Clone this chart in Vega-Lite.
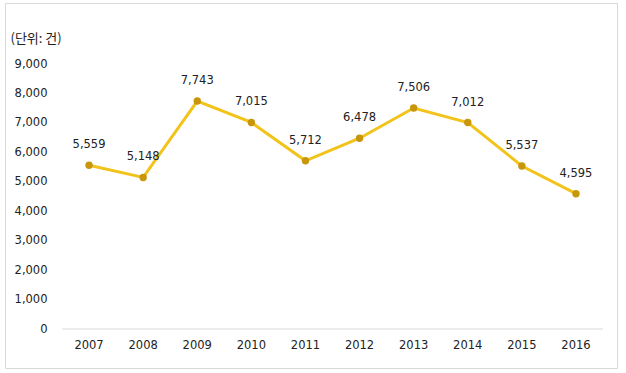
{
  "$schema": "https://vega.github.io/schema/vega-lite/v6.json",
  "width": 612,
  "height": 365,
  "autosize": {"type": "none"},
  "padding": {"left": 5, "top": 3, "right": 9, "bottom": 5},
  "background": "#ffffff",
  "config": {
    "view": {"stroke": "#d9d9d9", "strokeWidth": 1},
    "font": "DejaVu Sans",
    "axis": {"labelFont": "DejaVu Sans", "labelFontSize": 11.5, "labelColor": "#222222", "grid": false, "ticks": false}
  },
  "data": {
    "values": [
      {"year": "2007", "cases": 5559},
      {"year": "2008", "cases": 5148},
      {"year": "2009", "cases": 7743},
      {"year": "2010", "cases": 7015},
      {"year": "2011", "cases": 5712},
      {"year": "2012", "cases": 6478},
      {"year": "2013", "cases": 7506},
      {"year": "2014", "cases": 7012},
      {"year": "2015", "cases": 5537},
      {"year": "2016", "cases": 4595}
    ]
  },
  "encoding": {
    "x": {
      "field": "year",
      "type": "ordinal",
      "sort": null,
      "scale": {"type": "band", "domain": ["2007", "2008", "2009", "2010", "2011", "2012", "2013", "2014", "2015", "2016"], "paddingInner": 0, "paddingOuter": 0.656, "align": 0.803},
      "axis": {"orient": "bottom", "offset": -39, "domain": false, "labelPadding": 10, "labelAngle": 0, "title": null}
    },
    "y": {
      "field": "cases",
      "type": "quantitative",
      "scale": {"domain": [-1324.5, 11071.7], "nice": false, "zero": false},
      "axis": {
        "orient": "left",
        "offset": -57,
        "domain": false,
        "values": [0, 1000, 2000, 3000, 4000, 5000, 6000, 7000, 8000, 9000],
        "format": ",d",
        "labelPadding": 15,
        "title": "(단위: 건)",
        "titleFont": "Noto Sans CJK KR",
        "titleFontSize": 13,
        "titleFontWeight": "normal",
        "titleColor": "#222222",
        "titleAngle": 0,
        "titleAlign": "left",
        "titleBaseline": "middle",
        "titleX": -52,
        "titleY": 35
      }
    }
  },
  "layer": [
    {
      "data": {"values": [{"a": "2007", "b": "2016", "v": 0}]},
      "mark": {"type": "rule", "color": "#d9d9d9", "strokeWidth": 1},
      "encoding": {
        "x": {"field": "a", "type": "ordinal", "bandPosition": 0},
        "x2": {"field": "b", "bandPosition": 1},
        "y": {"field": "v", "type": "quantitative"}
      }
    },
    {
      "mark": {"type": "line", "color": "#F2C31B", "strokeWidth": 3}
    },
    {
      "mark": {"type": "point", "filled": true, "opacity": 1, "color": "#C8960A", "size": 55}
    },
    {
      "mark": {"type": "text", "dy": -20, "fontSize": 11.5, "color": "#222222", "font": "DejaVu Sans"},
      "encoding": {"text": {"field": "cases", "type": "quantitative", "format": ",d"}}
    }
  ]
}
